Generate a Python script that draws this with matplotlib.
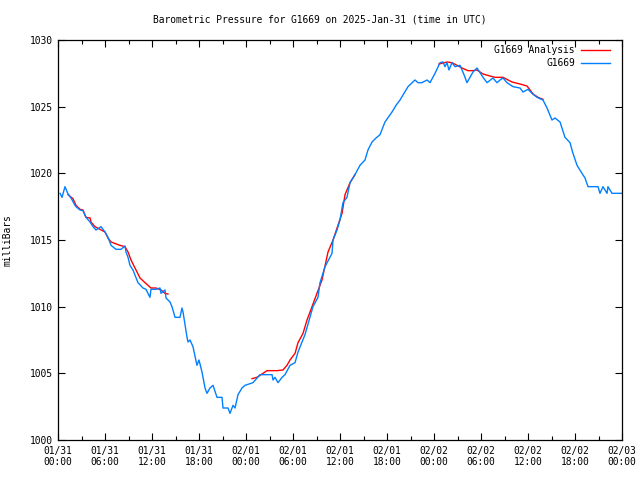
"""Barometric pressure for G1669, 2025-Jan-31 (gnuplot-style recreation)."""

import numpy as np
import matplotlib

matplotlib.use("Agg")
import matplotlib.pyplot as plt
from matplotlib.ticker import MultipleLocator

# hours since 01/31 00:00 UTC, pressure in mbar
obs_hours = [
    0.26, 0.51, 0.89, 1.28, 1.66, 2.17, 2.30, 2.81, 3.19, 3.57, 4.09, 4.47, 4.85,
    5.49, 6.00, 6.38, 6.77, 7.40, 8.04, 8.55, 8.68, 8.94, 9.19, 9.57, 10.21,
    10.85, 11.23, 11.74, 11.87, 12.51, 13.02, 13.15, 13.66, 13.79, 14.04, 14.30,
    14.55, 14.94, 15.57, 15.83, 15.96, 16.47, 16.60, 16.85, 17.23, 17.74, 18.00,
    18.38, 18.77, 19.02, 19.40, 19.79, 20.30, 20.94, 21.06, 21.70, 21.96, 22.34,
    22.60, 22.98, 23.49, 23.87, 24.89, 25.79, 27.32, 27.45, 27.70, 28.09, 28.60,
    28.98, 29.62, 30.26, 30.64, 31.15, 31.53, 32.17, 32.55, 33.19, 33.45, 34.09,
    34.98, 35.11, 35.62, 36.00, 36.38, 36.89, 37.28, 37.91, 38.55, 39.19, 39.57,
    40.09, 40.60, 41.11, 41.74, 42.64, 43.15, 43.66, 44.17, 44.68, 45.57, 45.96,
    46.47, 47.11, 47.49, 48.13, 48.77, 49.15, 49.40, 49.66, 49.91, 50.30, 50.68,
    51.32, 51.83, 52.21, 52.98, 53.49, 54.26, 54.77, 55.53, 56.04, 56.43, 56.81,
    57.32, 58.09, 58.98, 59.36, 60.00, 60.51, 61.15, 61.91, 62.43, 63.06, 63.45,
    64.09, 64.72, 65.36, 65.74, 66.26, 66.89, 67.28, 67.66, 68.94, 69.19, 69.57,
    70.09, 70.21, 70.72, 72.00,
]
obs_mbar = [
    1018.5, 1018.2, 1019.0, 1018.45, 1018.15, 1017.6, 1017.5, 1017.25, 1017.2,
    1016.7, 1016.35, 1016.0, 1015.75, 1016.0, 1015.6, 1015.2, 1014.6, 1014.3,
    1014.3, 1014.55, 1014.1, 1013.7, 1013.1, 1012.75, 1011.8, 1011.4, 1011.3,
    1010.7, 1011.3, 1011.3, 1011.4, 1011.0, 1011.25, 1010.65, 1010.5, 1010.35,
    1010.0, 1009.2, 1009.2, 1009.9, 1009.6, 1007.7, 1007.35, 1007.5, 1007.0,
    1005.6, 1006.0, 1005.1, 1003.9, 1003.5, 1003.9, 1004.1, 1003.2, 1003.2,
    1002.4, 1002.4, 1002.0, 1002.6, 1002.4, 1003.4, 1003.9, 1004.1, 1004.3,
    1004.9, 1004.9, 1004.5, 1004.7, 1004.3, 1004.7, 1004.9, 1005.6, 1005.8,
    1006.6, 1007.35, 1007.9, 1009.2, 1010.0, 1010.7, 1011.8, 1013.0, 1014.0,
    1015.0, 1015.75, 1016.5, 1017.8, 1018.2, 1019.3, 1019.9, 1020.6, 1021.0,
    1021.75, 1022.35, 1022.65, 1022.9, 1023.85, 1024.6, 1025.1, 1025.5, 1026.0,
    1026.5, 1027.0, 1026.8, 1026.8, 1027.0, 1026.8, 1027.5, 1028.3, 1028.35,
    1028.0, 1028.3, 1027.75, 1028.3, 1028.0, 1028.1, 1027.4, 1026.8, 1027.6,
    1027.9, 1027.2, 1026.8, 1027.15, 1026.8, 1027.0, 1027.15, 1026.8, 1026.5,
    1026.4, 1026.1, 1026.3, 1026.0, 1025.7, 1025.5, 1024.9, 1024.0, 1024.15,
    1023.85, 1022.7, 1022.3, 1021.5, 1020.6, 1020.0, 1019.65, 1019.0, 1019.0,
    1018.5, 1019.0, 1018.5, 1019.0, 1018.5, 1018.5,
]

# analysis series, three separate segments (NaN = gap)
ana_hours = [
    1.28, 1.91, 2.30, 2.81, 3.19, 3.57, 4.09, 4.21, 4.72, 5.36, 6.00, 6.38, 6.77,
    7.91, 8.55, 8.94, 9.32, 9.83, 10.47, 11.11, 11.87, 12.51, 13.15, 13.66, 14.04,
    14.5,
    24.77, 25.40, 26.17, 26.68, 27.96, 28.72, 29.23, 29.62, 30.26, 30.64, 31.28,
    31.79, 32.43, 33.06, 33.70, 34.47, 35.11, 35.74, 36.26, 36.64, 37.28, 37.91,
    38.5,
    48.64, 49.66, 50.30, 50.94, 51.57, 52.34, 52.98, 53.49, 54.26, 55.15, 55.79,
    56.81, 57.96, 58.98, 59.87, 60.26, 60.64, 61.28, 61.91,
]
ana_mbar = [
    1018.4, 1018.1, 1017.6, 1017.3, 1017.25, 1016.7, 1016.65, 1016.35, 1016.0,
    1015.8, 1015.6, 1015.15, 1014.85, 1014.6, 1014.5, 1014.1, 1013.5, 1012.9,
    1012.15, 1011.8, 1011.4, 1011.4, 1011.25, 1011.0, 1010.95,
    np.nan,
    1004.6, 1004.7, 1005.0, 1005.2, 1005.2, 1005.25, 1005.6, 1006.0, 1006.5,
    1007.3, 1008.0, 1009.0, 1010.0, 1011.0, 1012.0, 1014.1, 1015.0, 1016.1,
    1017.0, 1018.4, 1019.3, 1019.9,
    np.nan,
    1028.2, 1028.35, 1028.3, 1028.1, 1027.9, 1027.7, 1027.7, 1027.75, 1027.45,
    1027.3, 1027.2, 1027.2, 1026.85, 1026.7, 1026.55, 1026.25, 1025.95, 1025.7,
    1025.55,
]

tick_hours = list(range(0, 73, 6))
tick_labels = [
    "01/31\n00:00", "01/31\n06:00", "01/31\n12:00", "01/31\n18:00",
    "02/01\n00:00", "02/01\n06:00", "02/01\n12:00", "02/01\n18:00",
    "02/02\n00:00", "02/02\n06:00", "02/02\n12:00", "02/02\n18:00",
    "02/03\n00:00",
]

RED = "#ff0000"
BLUE = "#0080ff"
FONT = "DejaVu Sans Mono"
FS = 6.9

plt.rcParams["font.family"] = FONT
plt.rcParams["font.size"] = FS

fig = plt.figure(figsize=(6.4, 4.8), dpi=100)
ax = fig.add_axes([58 / 640, 40 / 480, 564 / 640, 400 / 480])

ax.plot(ana_hours, ana_mbar, color=RED, lw=1.0)
ax.plot(obs_hours, obs_mbar, color=BLUE, lw=1.0)

ax.set_xlim(0, 72)
ax.set_ylim(1000, 1030)
ax.set_xticks(tick_hours)
ax.set_xticklabels(tick_labels, fontsize=FS)
ax.xaxis.set_minor_locator(MultipleLocator(3))
ax.yaxis.set_major_locator(MultipleLocator(5))
ax.tick_params(axis="both", which="major", direction="in", length=5, width=0.8,
               top=True, right=True, labelsize=FS, pad=4)
ax.tick_params(axis="x", which="minor", direction="in", length=3, width=0.8,
               top=True)
for sp in ax.spines.values():
    sp.set_linewidth(0.9)

ax.set_ylabel("milliBars", fontsize=FS, labelpad=12)
fig.text(0.5, 1 - 20 / 480, "Barometric Pressure for G1669 on 2025-Jan-31 (time in UTC)",
         ha="center", va="center", fontsize=FS)

# gnuplot-style key: right-aligned text, sample line after it
key_rows = [("G1669 Analysis", RED), ("G1669", BLUE)]
for i, (label, col) in enumerate(key_rows):
    y = 1 - (10 + 13 * i) / 400
    ax.text(1 - 47 / 564, y, label, transform=ax.transAxes, ha="right",
            va="center", fontsize=FS)
    ax.plot([1 - 41 / 564, 1 - 12 / 564], [y, y], transform=ax.transAxes,
            color=col, lw=1.0)

fig.savefig("out.png", dpi=100)
